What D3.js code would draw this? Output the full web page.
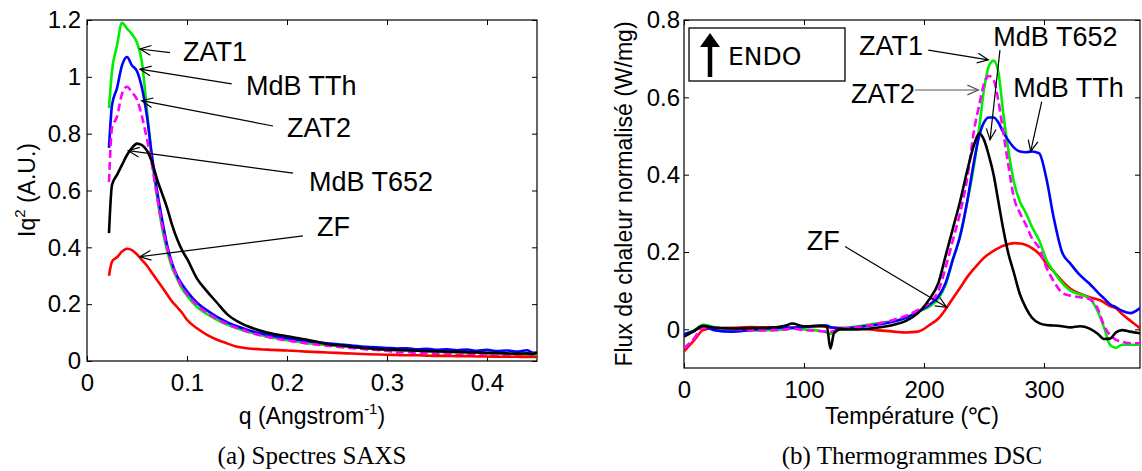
<!DOCTYPE html>
<html><head><meta charset="utf-8">
<script src="https://cdn.jsdelivr.net/npm/d3@7"></script>
<style>body{margin:0;background:#fff}svg{display:block}</style>
</head><body>
<svg id="c" width="1142" height="471"></svg>
<script>
// ---------- DATA: (a) SAXS ----------
const saxsQ = [0.022,0.025,0.03,0.035,0.04,0.045,0.05,0.055,0.06,0.065,0.07,0.075,0.08,0.085,0.09,0.095,0.1,
  0.11,0.12,0.13,0.14,0.15,0.16,0.18,0.2,0.22,0.24,0.26,0.28,0.3,
  0.31,0.32,0.33,0.34,0.35,0.36,0.37,0.38,0.39,0.4,0.41,0.42,0.43,0.44,0.445,0.45];
const saxsZAT1 = [0.89,1.02,1.11,1.19,1.17,1.15,1.12,1.05,0.88,0.71,0.58,0.47,0.39,0.33,0.29,0.255,0.23,
  0.19,0.165,0.145,0.128,0.115,0.104,0.086,0.073,0.063,0.056,0.05,0.045,0.04,
  0.038,0.036,0.037,0.033,0.034,0.03,0.031,0.028,0.03,0.026,0.027,0.023,0.026,0.02,0.018,0.022];
const saxsMdBTTh = [0.75,0.90,0.96,1.04,1.07,1.04,1.02,0.96,0.86,0.72,0.60,0.50,0.41,0.345,0.30,0.27,0.245,
  0.205,0.178,0.155,0.137,0.122,0.11,0.092,0.08,0.07,0.062,0.056,0.05,0.046,
  0.044,0.045,0.041,0.043,0.039,0.041,0.038,0.040,0.036,0.039,0.035,0.037,0.033,0.038,0.03,0.028];
const saxsZAT2 = [0.63,0.82,0.86,0.94,0.965,0.945,0.92,0.86,0.78,0.69,0.58,0.48,0.40,0.34,0.295,0.26,0.235,
  0.197,0.17,0.148,0.13,0.116,0.104,0.085,0.072,0.062,0.054,0.047,0.041,0.036,
  0.03,0.032,0.026,0.029,0.024,0.027,0.021,0.026,0.02,0.025,0.018,0.024,0.017,0.022,0.025,0.04];
const saxsMdBT652 = [0.45,0.62,0.655,0.69,0.725,0.75,0.765,0.76,0.74,0.70,0.64,0.59,0.54,0.48,0.43,0.39,0.36,
  0.29,0.245,0.205,0.165,0.14,0.123,0.10,0.087,0.075,0.06,0.052,0.045,0.04,
  0.039,0.038,0.036,0.035,0.034,0.033,0.032,0.031,0.030,0.029,0.028,0.027,0.026,0.027,0.025,0.03];
const saxsZF = [0.30,0.35,0.365,0.385,0.395,0.39,0.375,0.355,0.335,0.31,0.285,0.26,0.235,0.21,0.19,0.17,0.145,
  0.115,0.092,0.075,0.062,0.05,0.045,0.04,0.037,0.033,0.03,0.027,0.024,0.022,
  0.021,0.02,0.02,0.019,0.018,0.018,0.017,0.017,0.016,0.016,0.015,0.015,0.015,0.014,0.014,0.014];

// ---------- DATA: (b) DSC ----------
const dscT = [0,8,16,25,40,55,70,85,90,100,115,119,122,125,130,145,160,175,185,195,
  205,212,218,224,230,236,242,246,250,254,258,262,266,270,275,280,285,290,296,302,
  308,315,322,330,338,345,350,355,360,365,372,380];
const dscMdBT652 = [-0.019,-0.005,0.009,0.004,0.002,0.003,0.004,0.01,0.015,0.008,0.009,0.008,-0.05,-0.01,0.0,0.0,0.004,0.012,0.022,0.042,
  0.08,0.12,0.19,0.26,0.33,0.41,0.48,0.507,0.49,0.45,0.40,0.33,0.26,0.20,0.145,0.09,0.055,0.03,0.016,0.011,
  0.01,0.008,0.005,0.008,0.002,-0.012,-0.025,-0.024,-0.008,-0.002,-0.006,-0.01];
const dscZAT1 = [-0.014,-0.003,0.012,0.006,0.0,-0.003,-0.002,0.0,0.002,0.0,-0.005,-0.008,-0.012,-0.008,0.0,0.008,0.015,0.022,0.03,0.046,
  0.06,0.08,0.115,0.18,0.24,0.33,0.43,0.52,0.62,0.68,0.695,0.665,0.56,0.47,0.38,0.33,0.30,0.265,0.23,0.18,
  0.15,0.12,0.10,0.09,0.08,0.045,0.005,-0.04,-0.048,-0.04,-0.04,-0.04];
const dscZAT2 = [-0.049,-0.025,0.005,0.005,0.002,-0.002,-0.003,0.0,0.002,-0.002,-0.005,-0.006,-0.006,-0.004,0.0,0.006,0.014,0.025,0.035,0.05,
  0.07,0.10,0.16,0.23,0.30,0.39,0.52,0.58,0.635,0.655,0.645,0.59,0.51,0.43,0.34,0.30,0.27,0.235,0.21,0.16,
  0.125,0.095,0.087,0.083,0.078,0.052,0.01,-0.015,-0.027,-0.032,-0.036,-0.036];
const dscMdBTTh = [-0.012,-0.005,0.008,-0.002,-0.006,-0.002,0.002,0.005,0.004,0.006,0.01,0.01,0.006,0.004,0.002,0.006,0.012,0.02,0.03,0.045,
  0.065,0.085,0.12,0.18,0.24,0.33,0.44,0.50,0.535,0.548,0.548,0.535,0.51,0.49,0.47,0.46,0.458,0.46,0.455,0.39,
  0.29,0.20,0.17,0.14,0.118,0.095,0.08,0.065,0.057,0.048,0.042,0.055];
const dscZF = [-0.057,-0.03,-0.002,0.003,0.004,0.006,0.005,0.004,0.004,0.006,0.008,0.006,0.004,0.004,0.004,0.002,-0.002,-0.006,-0.008,-0.006,
  0.012,0.028,0.052,0.08,0.107,0.135,0.158,0.172,0.185,0.195,0.203,0.21,0.216,0.22,0.223,0.222,0.218,0.21,0.195,0.17,
  0.15,0.125,0.105,0.092,0.083,0.077,0.07,0.06,0.055,0.04,0.022,0.003];

// ---------- Ticks / labels ----------
const saxsXTicks = [0,0.1,0.2,0.3,0.4];
const saxsXTickLabels = ["0","0.1","0.2","0.3","0.4"];
const saxsYTicks = [0,0.2,0.4,0.6,0.8,1,1.2];
const saxsYTickLabels = ["0","0.2","0.4","0.6","0.8","1","1.2"];
const dscXTicks = [0,100,200,300];
const dscXTickLabels = ["0","100","200","300"];
const dscYTicks = [0,0.2,0.4,0.6,0.8];
const dscYTickLabels = ["0","0.2","0.4","0.6","0.8"];

const seriesNames = ["ZAT1","MdB TTh","ZAT2","MdB T652","ZF"];
const seriesColors = ["#00ee00","#0000ff","#ff00ff","#000000","#ff0000"];

// ---------- Drawing ----------
const SANS = "'Liberation Sans', Arial, Helvetica, sans-serif";
const svg = d3.select("#c");

const L = {x0:87, x1:537, y0:20, y1:361};
const R = {x0:684, x1:1140, y0:20, y1:368};
const xL = d3.scaleLinear().domain([0,0.45]).range([L.x0,L.x1]);
const yL = d3.scaleLinear().domain([0,1.2]).range([L.y1,L.y0]);
const xR = d3.scaleLinear().domain([0,380]).range([R.x0,R.x1]);
const yR = d3.scaleLinear().domain([-0.1,0.8]).range([R.y1,R.y0]);

function axes(box, x, y, xt, xl, yt, yl, ypad){
  const g = svg.append("g");
  const style = s => { s.select(".domain").remove(); s.selectAll("line").attr("stroke","#000");
    s.selectAll("text").attr("font-family",SANS).attr("font-size",24).attr("fill","#000"); };
  g.append("g").attr("transform",`translate(0,${box.y1})`)
    .call(d3.axisBottom(x).tickValues(xt).tickFormat((d,i)=>xl[i]).tickSizeInner(-5).tickSizeOuter(0).tickPadding(13)).call(style);
  g.append("g").attr("transform",`translate(0,${box.y0})`)
    .call(d3.axisTop(x).tickValues(xt).tickFormat("").tickSizeInner(-5).tickSizeOuter(0)).call(style);
  g.append("g").attr("transform",`translate(${box.x0},0)`)
    .call(d3.axisLeft(y).tickValues(yt).tickFormat((d,i)=>yl[i]).tickSizeInner(-5).tickSizeOuter(0).tickPadding(ypad)).call(style);
  g.append("g").attr("transform",`translate(${box.x1},0)`)
    .call(d3.axisRight(y).tickValues(yt).tickFormat("").tickSizeInner(-5).tickSizeOuter(0)).call(style);
  g.append("rect").attr("x",box.x0).attr("y",box.y0).attr("width",box.x1-box.x0).attr("height",box.y1-box.y0)
    .attr("fill","none").attr("stroke","#000").attr("stroke-width",1.2);
}

function curves(xs, list, x, y, order, box, id){
  svg.append("clipPath").attr("id",id).append("rect")
    .attr("x",box.x0).attr("y",box.y0).attr("width",box.x1-box.x0).attr("height",box.y1-box.y0);
  const g = svg.append("g").attr("clip-path",`url(#${id})`);
  const line = d3.line().x(d=>x(d[0])).y(d=>y(d[1])).curve(d3.curveMonotoneX);
  order.forEach(i=>{
    const pts = xs.map((v,j)=>[v,list[i][j]]);
    g.append("path").attr("d",line(pts)).attr("fill","none")
      .attr("stroke",seriesColors[i]).attr("stroke-width",2.6)
      .attr("stroke-linejoin","round")
      .attr("stroke-dasharray", i===2 ? "8,4" : null);
  });
}

function annot(x, y, tail, tip, text, tpos, anchor, color){
  const g = svg.append("g");
  const x1=x(tail[0]), y1=y(tail[1]), x2=x(tip[0]), y2=y(tip[1]);
  const c = color || "#000";
  g.append("line").attr("x1",x1).attr("y1",y1).attr("x2",x2).attr("y2",y2).attr("stroke",c).attr("stroke-width",1.2);
  const a = Math.atan2(y2-y1,x2-x1), len=12, sp=0.42;
  const p1=[x2-len*Math.cos(a-sp), y2-len*Math.sin(a-sp)], p2=[x2-len*Math.cos(a+sp), y2-len*Math.sin(a+sp)];
  g.append("path").attr("d",`M${p1}L${x2},${y2}L${p2}`).attr("fill","none").attr("stroke",c).attr("stroke-width",1.2);
  g.append("text").attr("x",x(tpos[0])).attr("y",y(tpos[1])).attr("dy","0.36em")
    .attr("text-anchor",anchor).attr("font-family",SANS).attr("font-size",27).attr("fill","#000").text(text);
}

// ----- (a) -----
axes(L, xL, yL, saxsXTicks, saxsXTickLabels, saxsYTicks, saxsYTickLabels, 6);
curves(saxsQ, [saxsZAT1,saxsMdBTTh,saxsZAT2,saxsMdBT652,saxsZF], xL, yL, [0,1,2,3,4], L, "clipL");
annot(xL, yL, [0.083,1.085], [0.053,1.098], seriesNames[0], [0.096,1.091], "start");
annot(xL, yL, [0.1447,0.975], [0.053,1.027], seriesNames[1], [0.159,0.971], "start");
annot(xL, yL, [0.186,0.827], [0.0547,0.916], seriesNames[2], [0.200,0.823], "start");
annot(xL, yL, [0.206,0.661], [0.0413,0.740], seriesNames[3], [0.222,0.633], "start");
annot(xL, yL, [0.216,0.440], [0.053,0.367], seriesNames[4], [0.230,0.475], "start");

const ylabL = svg.append("text").attr("transform","translate(35,190) rotate(-90)")
  .attr("text-anchor","middle").attr("font-family",SANS).attr("font-size",23).attr("fill","#000");
ylabL.append("tspan").text("Iq");
ylabL.append("tspan").attr("font-size",15).attr("dy",-10).text("2");
ylabL.append("tspan").attr("dy",10).text(" (A.U.)");

const xlabL = svg.append("text").attr("x",(L.x0+L.x1)/2).attr("y",424)
  .attr("text-anchor","middle").attr("font-family",SANS).attr("font-size",23).attr("fill","#000");
xlabL.append("tspan").text("q (Angstrom");
xlabL.append("tspan").attr("font-size",15).attr("dy",-10).text("-1");
xlabL.append("tspan").attr("dy",10).text(")");

svg.append("text").attr("x",(L.x0+L.x1)/2).attr("y",464).attr("text-anchor","middle")
  .attr("font-family","'Liberation Serif','Times New Roman',serif").attr("font-size",25).attr("fill","#000")
  .text("(a) Spectres SAXS");

// ----- (b) -----
axes(R, xR, yR, dscXTicks, dscXTickLabels, dscYTicks, dscYTickLabels, 4);
curves(dscT, [dscZAT1,dscMdBTTh,dscZAT2,dscMdBT652,dscZF], xR, yR, [4,0,1,2,3], R, "clipR");
annot(xR, yR, [203.6,0.722], [253.6,0.697], seriesNames[0], [199.2,0.735], "end");
annot(xR, yR, [192.5,0.619], [245.3,0.619], seriesNames[2], [192.5,0.611], "end", "#555");
annot(xR, yR, [263.3,0.722], [255,0.49], seriesNames[3], [257.8,0.757], "start");
annot(xR, yR, [298.1,0.589], [288.9,0.46], seriesNames[1], [274.4,0.626], "start");
annot(xR, yR, [134.2,0.214], [218.9,0.057], seriesNames[4], [102.3,0.2295], "start");

// ENDO legend box
const lg = svg.append("g").attr("transform",`translate(${R.x0+5},${R.y0+8})`);
lg.append("rect").attr("x",0).attr("y",0).attr("width",156).attr("height",53)
  .attr("fill","#fff").attr("stroke","#000").attr("stroke-width",1.3);
lg.append("line").attr("x1",21).attr("y1",49).attr("x2",21).attr("y2",17).attr("stroke","#000").attr("stroke-width",4.5);
lg.append("path").attr("d","M11,19 L21,5 L31,19 Z").attr("fill","#000");
lg.append("text").attr("x",39).attr("y",37).attr("font-family","'DejaVu Sans',sans-serif")
  .attr("font-size",25).attr("fill","#000").text("ENDO");

svg.append("text").attr("transform","translate(632,194) rotate(-90)").attr("text-anchor","middle")
  .attr("font-family",SANS).attr("font-size",23).attr("fill","#000").text("Flux de chaleur normalisé (W/mg)");
svg.append("text").attr("x",(R.x0+R.x1)/2).attr("y",424).attr("text-anchor","middle")
  .attr("font-family",SANS).attr("font-size",23).attr("fill","#000").text("Température (℃)");
svg.append("text").attr("x",(R.x0+R.x1)/2).attr("y",464).attr("text-anchor","middle")
  .attr("font-family","'Liberation Serif','Times New Roman',serif").attr("font-size",25).attr("fill","#000")
  .text("(b) Thermogrammes DSC");
</script>
</body></html>
